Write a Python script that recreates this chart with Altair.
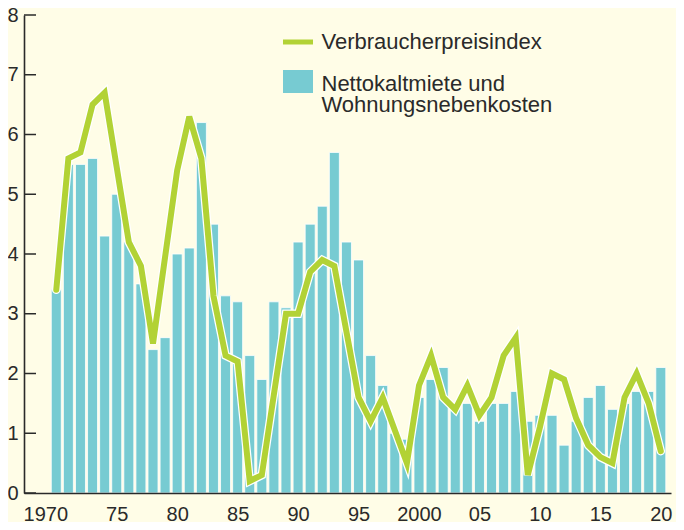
import altair as alt
import pandas as pd

years = list(range(1970, 2021))

rent = [3.4, 5.5, 5.5, 5.6, 4.3, 5.0, 4.2, 3.5, 2.4, 2.6,
        4.0, 4.1, 6.2, 4.5, 3.3, 3.2, 2.3, 1.9, 3.2, 3.1,
        4.2, 4.5, 4.8, 5.7, 4.2, 3.9, 2.3, 1.8, 1.0, 0.9,
        1.6, 1.9, 2.1, 1.4, 1.5, 1.2, 1.5, 1.5, 1.7, 1.2,
        1.3, 1.3, 0.8, 1.2, 1.6, 1.8, 1.4, 1.5, 1.7, 1.7,
        2.1]

cpi = [3.4, 5.6, 5.7, 6.5, 6.7, 5.45, 4.2, 3.8, 2.5, 3.95,
       5.4, 6.3, 5.6, 3.3, 2.3, 2.2, 0.2, 0.3, 1.65, 3.0,
       3.0, 3.7, 3.9, 3.8, 2.7, 1.6, 1.2, 1.6, 1.05, 0.5,
       1.8, 2.3, 1.6, 1.4, 1.8, 1.3, 1.6, 2.3, 2.6, 0.3,
       1.1, 2.0, 1.9, 1.25, 0.8, 0.6, 0.5, 1.6, 2.0, 1.5,
       0.7]

y_ticks = [0, 1, 2, 3, 4, 5, 6, 7, 8]
x_ticks = [1970, 1975, 1980, 1985, 1990, 1995, 2000, 2005, 2010, 2015, 2020]

legend_cpi = "Verbraucherpreisindex"
legend_rent_1 = "Nettokaltmiete und"
legend_rent_2 = "Wohnungsnebenkosten"

BG = "#FFFDE7"
BAR = "#77CBD2"
GREEN = "#B2D235"
INK = "#2a2a2a"
FONT = "Liberation Sans"

df = pd.DataFrame({"year": years, "rent": rent, "cpi": cpi})
tick_df = pd.DataFrame({"v": y_ticks})
one = pd.DataFrame({"d": [0]})

xscale = alt.Scale(domain=[1967.744, 2020.43], nice=False, zero=False)
yscale = alt.Scale(domain=[0, 8], nice=False)

base = alt.Chart(df)

bars = base.mark_bar(width=10, color=BAR, stroke="white", strokeWidth=0.8).encode(
    x=alt.X("year:Q", scale=xscale, title=None,
            axis=alt.Axis(values=x_ticks, format="d",
                          labelExpr="datum.value == 1970 || datum.value == 2000 ? datum.label : substring(datum.label, 2, 4)",
                          labelOffset={"condition": {"test": "datum.value == 1970", "value": -11}, "value": 0},
                          ticks=False, grid=False, labelPadding=11,
                          domainColor=INK, domainWidth=1.6, zindex=1,
                          labelFontSize=20, labelFont=FONT, labelColor=INK)),
    y=alt.Y("rent:Q", scale=yscale, title=None,
            axis=alt.Axis(values=y_ticks, format="d", ticks=False, grid=False, labelPadding=6,
                          domainColor=INK, domainWidth=1.6, zindex=1,
                          labelFontSize=20, labelFont=FONT, labelColor=INK,
                          labelBaseline="middle")),
)

line_halo = base.mark_line(color="white", strokeWidth=8.5, strokeJoin="miter", strokeCap="round").encode(
    x=alt.X("year:Q", scale=xscale, title=None),
    y=alt.Y("cpi:Q", scale=yscale, title=None),
)
line = base.mark_line(color=GREEN, strokeWidth=6, strokeJoin="miter", strokeCap="round").encode(
    x=alt.X("year:Q", scale=xscale, title=None),
    y=alt.Y("cpi:Q", scale=yscale, title=None),
)

ticks = alt.Chart(tick_df).mark_rule(color=INK, strokeWidth=1.5).encode(
    y=alt.Y("v:Q", scale=yscale, title=None),
    x=alt.value(0), x2=alt.value(12),
)

leg_line = alt.Chart(one).mark_rule(color=GREEN, strokeWidth=5).encode(
    x=alt.value(259), x2=alt.value(289), y=alt.value(27))
leg_rect = alt.Chart(one).mark_rect(color=BAR).encode(
    x=alt.value(259), x2=alt.value(289), y=alt.value(55), y2=alt.value(78))


def legend_text(txt, ypos):
    return alt.Chart(one).mark_text(align="left", baseline="alphabetic", fontSize=22,
                                    font=FONT, color=INK).encode(
        x=alt.value(297.5), y=alt.value(ypos), text=alt.value(txt))


leg_t1 = legend_text(legend_cpi, 33.5)
leg_t2 = legend_text(legend_rent_1, 76)
leg_t3 = legend_text(legend_rent_2, 96.5)

chart = alt.layer(bars, line_halo, line, ticks, leg_line, leg_rect, leg_t1, leg_t2, leg_t3).properties(
    width=647, height=478,
    background=BG,
    padding={"left": 16, "top": 7, "right": 5, "bottom": 29},
    autosize=alt.AutoSizeParams(type="none"),
).configure_view(stroke=None)

chart.save("out.html", embed_options={"renderer": "svg", "actions": False})
